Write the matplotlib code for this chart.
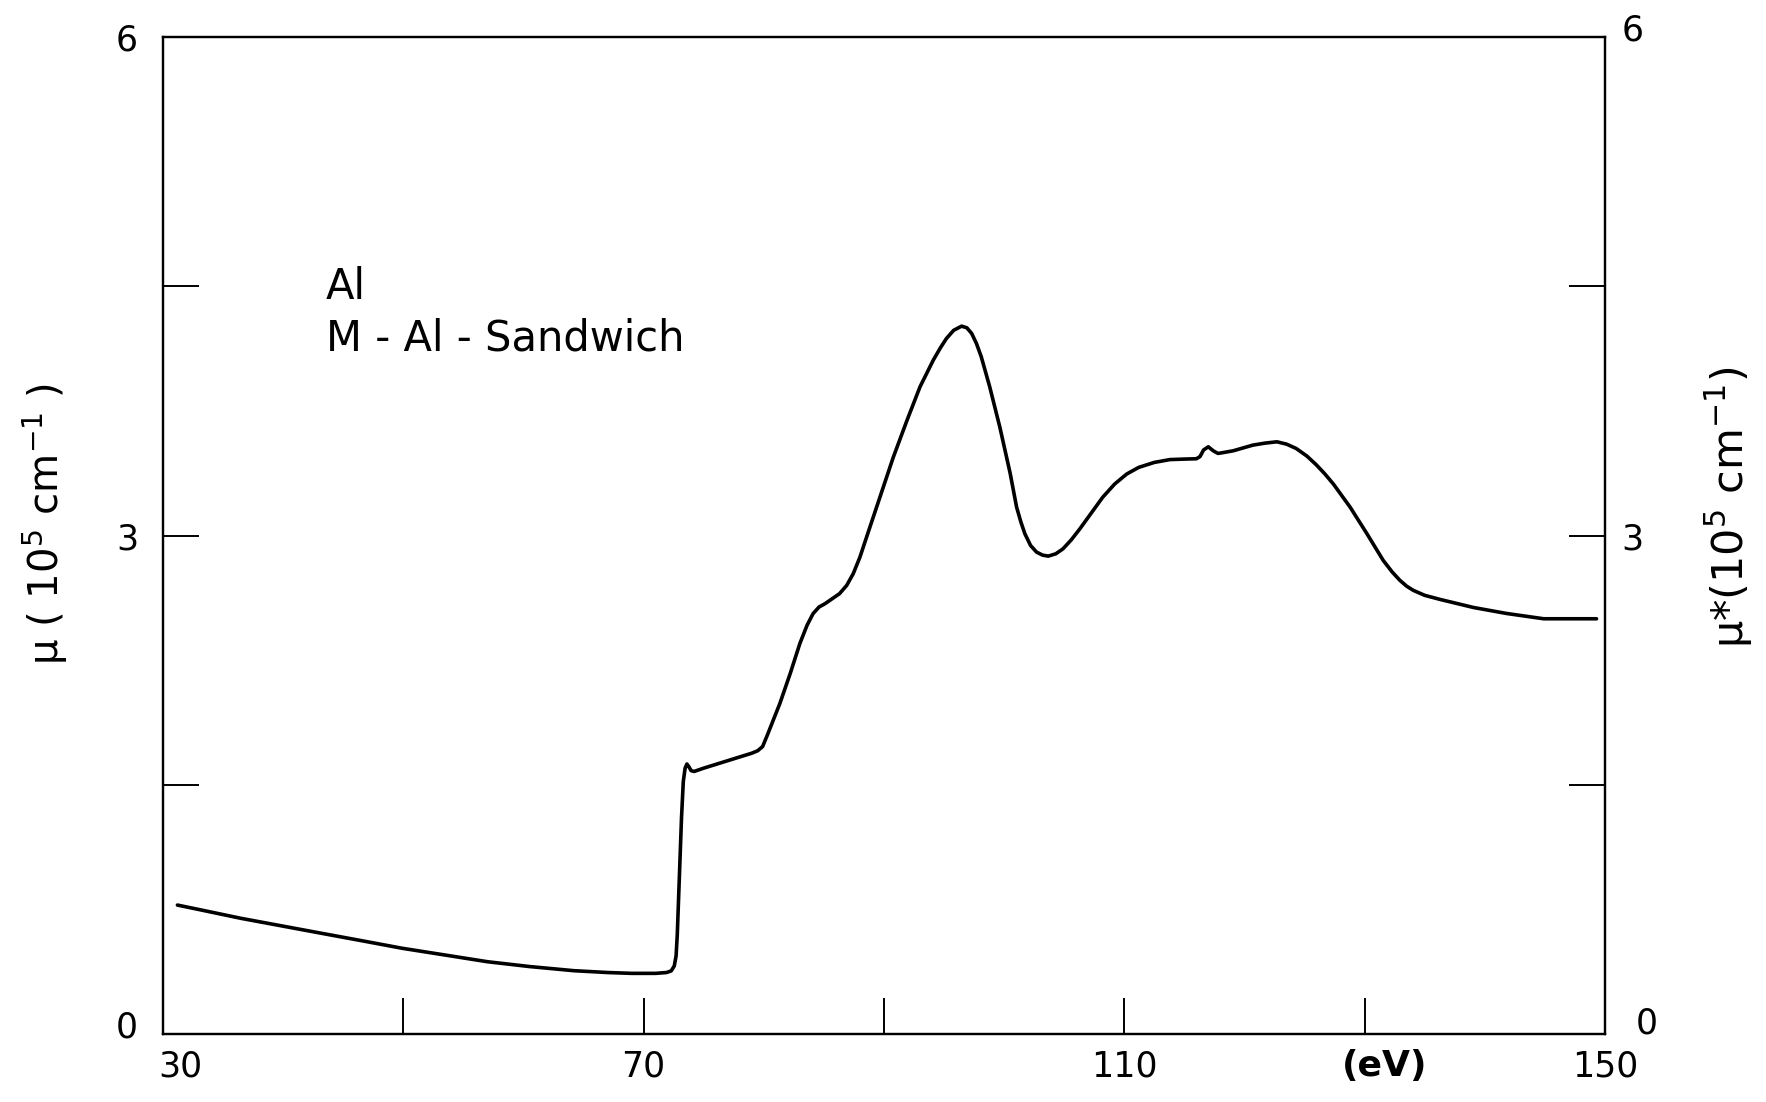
import matplotlib
matplotlib.use("Agg")
import matplotlib.pyplot as plt
import matplotlib.transforms as mtransforms

# photon energy (eV) and absorption coefficient mu (10^5 cm^-1)
energy = [31.2, 33.0, 36.5, 40.0, 43.2, 46.5, 49.9, 53.5, 57.0, 60.5, 64.2, 67.0,
          69.0, 71.0, 71.9, 72.3, 72.55, 72.7, 72.8, 72.9, 73.0, 73.15, 73.3, 73.45,
          73.6, 73.75, 73.95, 74.2, 75.0, 77.0, 79.0, 79.5, 79.9, 80.3, 81.34, 82.2,
          83.0, 83.6, 84.1, 84.6, 85.1, 85.7, 86.3, 86.9, 87.44, 88.0, 88.55, 89.66,
          90.77, 91.9, 93.0, 94.1, 94.7, 95.2, 95.8, 96.46, 96.9, 97.3, 97.7, 98.1,
          98.8, 99.65, 100.5, 101.04, 101.4, 101.73, 102.2, 102.7, 103.2, 103.67,
          104.3, 104.9, 105.6, 106.3, 107.2, 108.2, 109.2, 110.2, 111.2, 112.5,
          113.8, 115.0, 116.0, 116.3, 116.6, 116.99, 117.4, 117.8, 118.3, 119.07,
          120.7, 121.7, 122.7, 123.5, 124.3, 125.2, 126.0, 126.7, 127.4, 128.8,
          130.2, 131.55, 132.3, 132.94, 133.5, 134.05, 135.0, 136.3, 139.05, 141.8,
          144.9, 147.0, 149.3]
mu = [0.776, 0.749, 0.696, 0.649, 0.606, 0.562, 0.516, 0.475, 0.435, 0.406, 0.381, 0.370,
      0.365, 0.365, 0.370, 0.380, 0.41, 0.47, 0.60, 0.80, 1.00, 1.30, 1.52, 1.60,
      1.625, 1.61, 1.585, 1.58, 1.60, 1.645, 1.69, 1.705, 1.73, 1.80, 1.99, 2.17,
      2.35, 2.46, 2.53, 2.57, 2.59, 2.62, 2.65, 2.70, 2.77, 2.87, 2.99, 3.23,
      3.47, 3.69, 3.895, 4.055, 4.13, 4.186, 4.235, 4.26, 4.25, 4.216, 4.155, 4.075,
      3.895, 3.65, 3.375, 3.17, 3.08, 3.01, 2.94, 2.90, 2.882, 2.876,
      2.89, 2.92, 2.975, 3.04, 3.13, 3.23, 3.31, 3.37, 3.41, 3.44,
      3.457, 3.46, 3.462, 3.475, 3.515, 3.534, 3.51, 3.494, 3.50, 3.51,
      3.544, 3.556, 3.564, 3.55, 3.524, 3.478, 3.424, 3.37, 3.31, 3.17,
      3.01, 2.85, 2.78, 2.73, 2.695, 2.67, 2.64, 2.615, 2.567, 2.531,
      2.499, 2.499, 2.499]

xticks = [30, 50, 70, 90, 110, 130, 150]
xlabels = ["30", "", "70", "", "110", "(eV)", "150"]
yticks = [0, 1.5, 3, 4.5, 6]
ylabels = ["0", "", "3", "", "6"]

plt.rcParams["font.family"] = ["DejaVu Sans"]


def shift(label, dx, dy):
    # move a tick label by (dx, dy) inches
    label.set_transform(label.get_transform() +
                        mtransforms.ScaledTranslation(dx, dy, fig.dpi_scale_trans))


fig = plt.figure(figsize=(17.66, 11.02), dpi=100)
ax = fig.add_axes([0.0923, 0.0617, 0.8165, 0.9047])
ax.plot(energy, mu, color="black", lw=2.6, solid_joinstyle="round",
        solid_capstyle="round")

ax.set_xlim(30, 150)
ax.set_ylim(0, 6)
ax.set_xticks(xticks)
ax.set_xticklabels(xlabels)
ax.set_yticks(yticks)
ax.set_yticklabels(ylabels)
for s in ax.spines.values():
    s.set_linewidth(1.6)
ax.tick_params(axis="x", direction="in", length=26, width=1.4, labelsize=25, pad=11)
ax.tick_params(axis="y", direction="in", length=26, width=1.4, labelsize=25, pad=18)

# "(eV)" sits in the 130 slot, a bit heavier and shifted right
lab = ax.get_xticklabels()[5]
lab.set_fontweight("bold")
lab.set_fontsize(26)
shift(lab, 0.2, 0)
shift(ax.get_xticklabels()[0], 0.17, 0)
shift(ax.get_yticklabels()[0], 0, 0.1)

ax2 = ax.twinx()
ax2.set_ylim(0, 6)
ax2.set_yticks(yticks)
ax2.set_yticklabels(ylabels)
ax2.tick_params(axis="y", direction="in", length=26, width=1.4, labelsize=25, pad=12)
for s in ax2.spines.values():
    s.set_linewidth(1.6)
shift(ax2.get_yticklabels()[0], 0.14, 0.14)
shift(ax2.get_yticklabels()[4], 0, 0.1)

fig.text(0.0255, 0.524, "μ ( 10$^5$ cm$^{-1}$ )", rotation=90, fontsize=29,
         ha="center", va="center")
fig.text(0.979, 0.54, "μ*(10$^5$ cm$^{-1}$)", rotation=90, fontsize=31,
         ha="center", va="center")

ax.text(0.113, 0.749, "Al", transform=ax.transAxes, fontsize=30, va="center")
ax.text(0.113, 0.698, "M - Al - Sandwich", transform=ax.transAxes, fontsize=30,
        va="center")

fig.savefig("out.png", dpi=100, facecolor="white")
